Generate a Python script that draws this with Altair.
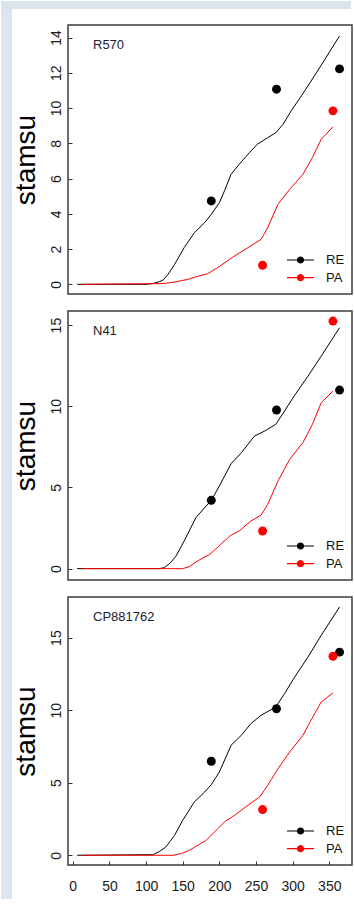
import altair as alt
import pandas as pd

FONT = "Liberation Sans"

cultivars = ["R570", "N41", "CP881762"]
series_names = ["RE", "PA"]
series_colors = ["#000000", "#ff0000"]
x_ticks = [0, 50, 100, 150, 200, 250, 300, 350]
y_ticks_r570 = [0, 2, 4, 6, 8, 10, 12, 14]
y_ticks_n41 = [0, 5, 10, 15]
y_ticks_cp = [0, 5, 10, 15]

# simulated curves (day, value)
r570_re_day = [6, 100, 110, 118, 123, 130, 139, 152, 166, 180, 189, 200, 207, 216, 227, 241, 252, 266, 277, 287, 298, 312, 334, 364]
r570_re_val = [0, 0, 0.05, 0.15, 0.23, 0.57, 1.13, 2.08, 2.93, 3.5, 3.97, 4.63, 5.3, 6.24, 6.8, 7.47, 7.95, 8.32, 8.6, 9.08, 9.84, 10.69, 12.1, 14.09]
r570_pa_day = [13, 123, 139, 157, 170, 184, 198, 216, 239, 257, 266, 280, 296, 314, 327, 339, 355]
r570_pa_val = [0, 0.04, 0.13, 0.28, 0.45, 0.6, 0.95, 1.48, 2.08, 2.55, 3.22, 4.54, 5.39, 6.24, 7.19, 8.23, 8.93]

n41_re_day = [6, 118, 125, 133, 141, 152, 168, 182, 189, 200, 216, 230, 248, 262, 277, 289, 302, 321, 339, 364]
n41_re_val = [0, 0, 0.06, 0.35, 0.78, 1.7, 3.14, 3.86, 4.2, 5.09, 6.46, 7.14, 8.17, 8.48, 8.89, 9.71, 10.63, 11.86, 13.09, 14.84]
n41_pa_day = [13, 150, 159, 170, 187, 202, 216, 227, 243, 257, 266, 280, 296, 314, 327, 339, 355]
n41_pa_val = [0, 0, 0.12, 0.47, 0.88, 1.5, 2.07, 2.32, 2.93, 3.3, 3.96, 5.4, 6.73, 7.76, 8.89, 10.22, 10.94]

cp_re_day = [6, 109, 118, 127, 139, 150, 166, 180, 189, 200, 216, 230, 243, 257, 277, 289, 302, 321, 339, 364]
cp_re_val = [0, 0.04, 0.25, 0.57, 1.38, 2.41, 3.68, 4.36, 4.87, 5.74, 7.58, 8.27, 9.07, 9.65, 10.22, 11.14, 12.22, 13.67, 15.16, 17.11]
cp_pa_day = [13, 137, 148, 159, 182, 198, 207, 221, 239, 255, 266, 280, 296, 314, 325, 339, 355]
cp_pa_val = [0, 0, 0.11, 0.34, 1.03, 1.84, 2.3, 2.76, 3.45, 4.02, 4.82, 5.97, 7.12, 8.27, 9.3, 10.57, 11.19]

# observations
obs_re_day = [189, 278, 364]
obs_pa_day = [259, 355]
r570_obs_re = [4.73, 11.07, 12.22]
r570_obs_pa = [1.08, 9.84]
n41_obs_re = [4.21, 9.77, 11.0]
n41_obs_pa = [2.32, 15.25]
cp_obs_re = [6.48, 10.1, 14.0]
cp_obs_pa = [3.15, 13.71]

X_DOMAIN = [-6.5, 381]
y_domains = [[-0.55, 14.71], [-0.70, 15.87], [-0.67, 17.8]]
heights = [269, 269, 268]
PANEL_W = 284

SYMBOL = "M-1,0L1,0M-0.222,0A0.222,0.222,0,1,1,0.222,0A0.222,0.222,0,1,1,-0.222,0Z"


def line_frame(re_d, re_v, pa_d, pa_v):
    return pd.DataFrame({
        "day": re_d + pa_d,
        "value": re_v + pa_v,
        "series": ["RE"] * len(re_d) + ["PA"] * len(pa_d),
    })


def obs_frame(re_v, pa_v):
    return pd.DataFrame({
        "day": obs_re_day + obs_pa_day,
        "value": re_v + pa_v,
        "series": ["RE"] * len(obs_re_day) + ["PA"] * len(obs_pa_day),
    })


def make_panel(i, lines, obs, yticks, show_x, strips=False):
    h = heights[i]
    x_axis = alt.Axis(values=x_ticks, title=None, grid=False, domain=False, ticks=True,
                      tickSize=4, offset=-4, labelPadding=14, labelFontSize=14,
                      labelFont=FONT, labelColor="#1a1a1a", tickColor="#333333",
                      labelFlush=False, zindex=2) if show_x else None
    xenc = alt.X("day:Q", scale=alt.Scale(domain=X_DOMAIN, nice=False, zero=False), axis=x_axis)
    yenc = alt.Y("value:Q", scale=alt.Scale(domain=y_domains[i], nice=False, zero=False),
                 axis=alt.Axis(values=yticks, title="stamsu", grid=False, domain=False,
                               tickSize=4, offset=-4, labelAngle=270, labelAlign="center",
                               labelBaseline="alphabetic", labelPadding=8, labelFontSize=14,
                               labelFont=FONT, labelColor="#1a1a1a", tickColor="#333333",
                               labelFlush=False, labelOverlap=False,
                               titleFont=FONT, titleFontSize=28, titleFontWeight="normal",
                               titleColor="#000000", titleAngle=270, titleAlign="center",
                               titleBaseline="alphabetic", titleX=-38, titleY=h / 2, zindex=2))
    legend = alt.Legend(title=None, orient="none", legendX=218, legendY=h - 42,
                        symbolType=SYMBOL, symbolSize=729, symbolStrokeWidth=1.2,
                        labelFontSize=13, labelFont=FONT, labelColor="#111111",
                        labelOffset=11, rowPadding=1.7, clipHeight=16, padding=0,
                        symbolOpacity=1)
    stroke_scale = alt.Scale(domain=series_names, range=series_colors)
    base = alt.Chart(lines)
    re_line = base.transform_filter(alt.datum.series == "RE").mark_line(strokeWidth=1).encode(
        x=xenc, y=yenc, stroke=alt.Stroke("series:N", scale=stroke_scale, legend=legend))
    pa_line = base.transform_filter(alt.datum.series == "PA").mark_line(strokeWidth=1).encode(
        x=xenc, y=yenc, stroke=alt.Stroke("series:N", scale=stroke_scale, legend=legend))
    pts = alt.Chart(obs).mark_circle(size=80, opacity=1).encode(
        x=xenc, y=yenc, fill=alt.Fill("series:N", scale=stroke_scale, legend=legend))
    label = alt.Chart(pd.DataFrame({"name": [cultivars[i]]})).mark_text(
        align="left", baseline="alphabetic", fontSize=13, font=FONT, color="#1c2033"
    ).encode(x=alt.value(25), y=alt.value(24), text="name:N")
    layers = []
    if strips:
        one = pd.DataFrame({"k": [0]})
        top_strip = alt.Chart(one).mark_rect(color="#d9e2ed").encode(
            x=alt.value(-67), x2=alt.value(283), y=alt.value(-24), y2=alt.value(-16))
        left_strip = alt.Chart(one).mark_rect(color="#dde5ef").encode(
            x=alt.value(-67), x2=alt.value(-56), y=alt.value(-16), y2=alt.value(874))
        layers += [top_strip, left_strip]
    layers += [re_line, pa_line, pts, label]
    return alt.layer(*layers).properties(width=PANEL_W, height=h).resolve_scale(
        stroke="shared", fill="shared")


p1 = make_panel(0, line_frame(r570_re_day, r570_re_val, r570_pa_day, r570_pa_val),
                obs_frame(r570_obs_re, r570_obs_pa), y_ticks_r570, False, strips=True)
p2 = make_panel(1, line_frame(n41_re_day, n41_re_val, n41_pa_day, n41_pa_val),
                obs_frame(n41_obs_re, n41_obs_pa), y_ticks_n41, False)
p3 = make_panel(2, line_frame(cp_re_day, cp_re_val, cp_pa_day, cp_pa_val),
                obs_frame(cp_obs_re, cp_obs_pa), y_ticks_cp, True)

chart = alt.vconcat(p1, p2, p3, spacing=17).resolve_scale(
    stroke="independent", fill="independent"
).resolve_legend(stroke="independent", fill="independent").properties(
    padding=0, bounds="flush", background="white"
).configure_view(stroke="#3c3c3c", strokeWidth=1.5)

chart.save("out.html", embed_options={"renderer": "svg", "actions": False})
